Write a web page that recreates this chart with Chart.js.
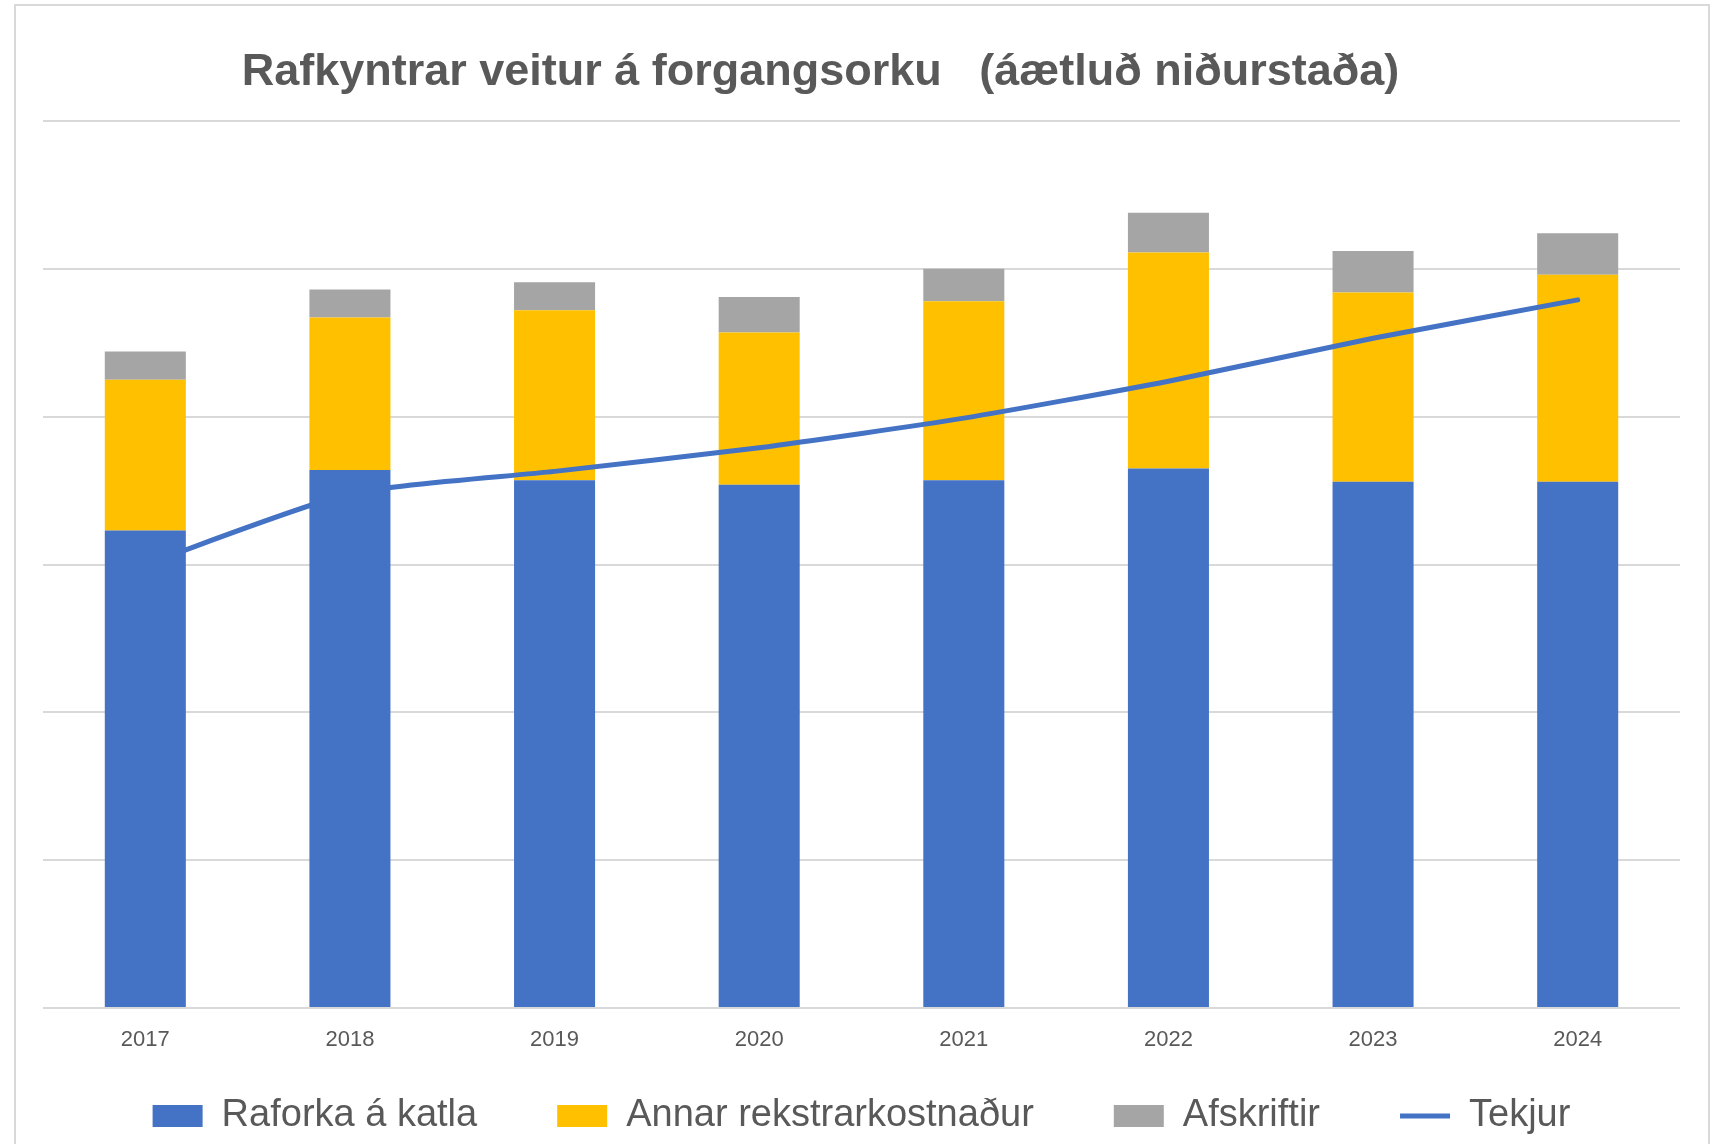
<!DOCTYPE html>
<html>
<head>
<meta charset="utf-8">
<script src="https://cdn.jsdelivr.net/npm/chart.js@4/dist/chart.umd.min.js"></script>
<style>
    body { margin: 0; background: #fff; overflow: hidden; }
    #frame { position: absolute; left: 14px; top: 4px; width: 1692px; height: 1200px; border: 2px solid #d9d9d9; pointer-events: none; }
    canvas { position: absolute; left: 0; top: 0; }
</style>
</head>
<body>
<canvas id="myChart" width="1721" height="1144"></canvas>
<div id="frame"></div>
<script>
// values, one gridline = 1 unit
var years = ['2017', '2018', '2019', '2020', '2021', '2022', '2023', '2024'];
var raforka = [3.23, 3.64, 3.57, 3.54, 3.57, 3.65, 3.56, 3.56];
var annar = [1.02, 1.03, 1.15, 1.03, 1.21, 1.46, 1.28, 1.40];
var afskriftir = [0.19, 0.19, 0.19, 0.24, 0.22, 0.27, 0.28, 0.28];
var tekjur = [3.00, 3.48, 3.63, 3.79, 3.99, 4.24, 4.53, 4.79];

Chart.defaults.font.family = "'Liberation Sans', Arial, sans-serif";
Chart.defaults.color = '#595959';

// title in the original sits a little left of centre,
// legend row sits closer to the axis than its wide padding would allow
var nudge = {
    id: 'nudge',
    afterLayout: function(chart) {
        chart.titleBlock.left -= 82;
        var lg = chart.legend;
        lg.top = 1017;
        lg.bottom = chart.height;
        lg.height = lg.bottom - lg.top;
    }
};

var config = {
    type: 'bar',
    data: {
        labels: years,
        datasets: [{
            label: 'Raforka á katla',
            data: raforka,
            backgroundColor: '#4472C4',
            stack: 'kostn',
            order: 1,
            pointStyle: 'rect'
        }, {
            label: 'Annar rekstrarkostnaður',
            data: annar,
            backgroundColor: '#FFC000',
            stack: 'kostn',
            order: 1,
            pointStyle: 'rect'
        }, {
            label: 'Afskriftir',
            data: afskriftir,
            backgroundColor: '#A5A5A5',
            stack: 'kostn',
            order: 1,
            pointStyle: 'rect'
        }, {
            type: 'line',
            label: 'Tekjur',
            data: tekjur,
            borderColor: '#4472C4',
            backgroundColor: '#4472C4',
            borderWidth: 5,
            borderCapStyle: 'round',
            tension: 0.2,
            pointRadius: 0,
            pointHoverRadius: 0,
            pointStyle: 'line',
            stack: 'tekjur',
            order: 0
        }]
    },
    options: {
        responsive: false,
        animation: false,
        layout: {
            padding: { left: 43, right: 41, top: 0, bottom: 0 }
        },
        datasets: {
            bar: { barPercentage: 0.396, categoryPercentage: 1 }
        },
        scales: {
            x: {
                stacked: true,
                grid: { display: false, drawTicks: false },
                border: { display: false },
                ticks: { padding: 19, font: { size: 22 }, color: '#595959' },
                afterFit: function(scale) { scale.height = 48; }
            },
            y: {
                stacked: true,
                min: 0,
                max: 6,
                ticks: { display: false, stepSize: 1 },
                grid: { color: '#d9d9d9', lineWidth: 2, drawTicks: false },
                border: { display: false }
            }
        },
        plugins: {
            title: {
                display: true,
                text: 'Rafkyntrar veitur á forgangsorku   (áætluð niðurstaða)',
                color: '#595959',
                font: { size: 45, weight: 'bold' },
                padding: { top: 46, bottom: 21 }
            },
            legend: {
                position: 'bottom',
                maxHeight: 88,
                labels: {
                    usePointStyle: true,
                    pointStyleWidth: 50,
                    boxHeight: 22,
                    padding: 80,
                    color: '#595959',
                    font: { size: 38 },
                    sort: function(a, b) { return a.datasetIndex - b.datasetIndex; }
                }
            },
            tooltip: { enabled: false }
        }
    },
    plugins: [nudge]
};

window.onload = function() {
    var ctx = document.getElementById('myChart').getContext('2d');
    window.myChart = new Chart(ctx, config);
};
</script>
</body>
</html>
